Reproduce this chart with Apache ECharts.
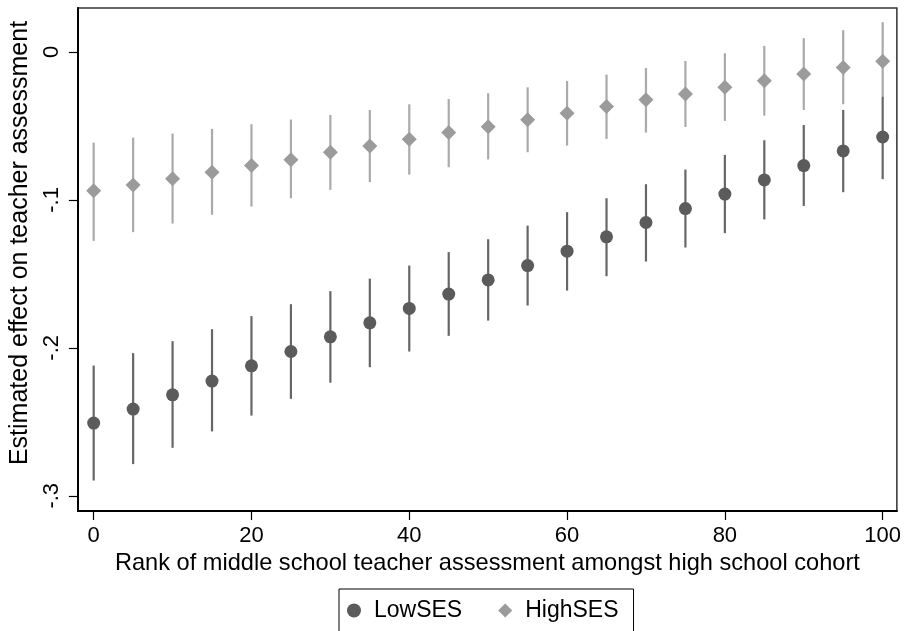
<!DOCTYPE html>
<html>
<head>
<meta charset="utf-8">
<script src="https://cdn.jsdelivr.net/npm/echarts@6/dist/echarts.min.js"></script>
<style>
html,body{margin:0;padding:0;background:#fff;}
#chart{width:904px;height:631px;}
</style>
</head>
<body>
<div id="chart"></div>
<script>
// ---- data ----
const xValues = [0,5,10,15,20,25,30,35,40,45,50,55,60,65,70,75,80,85,90,95,100];

const lowEst   = [-0.2509,-0.2414,-0.2318,-0.2225,-0.2122,-0.2025,-0.1926,-0.1831,-0.1734,-0.1637,-0.1541,-0.1444,-0.1347,-0.1250,-0.1153,-0.1059,-0.0961,-0.0865,-0.0768,-0.0669,-0.0575];
const lowUpper = [-0.2120,-0.2036,-0.1955,-0.1874,-0.1786,-0.1705,-0.1617,-0.1532,-0.1444,-0.1353,-0.1266,-0.1174,-0.1083,-0.0989,-0.0894,-0.0795,-0.0696,-0.0597,-0.0494,-0.0392,-0.0300];
const lowLower = [-0.2897,-0.2786,-0.2676,-0.2565,-0.2458,-0.2345,-0.2236,-0.2131,-0.2025,-0.1919,-0.1816,-0.1714,-0.1613,-0.1516,-0.1417,-0.1322,-0.1225,-0.1132,-0.1041,-0.0948,-0.0860];

const highEst   = [-0.0939,-0.0899,-0.0858,-0.0813,-0.0768,-0.0728,-0.0678,-0.0635,-0.0590,-0.0545,-0.0505,-0.0459,-0.0414,-0.0369,-0.0324,-0.0284,-0.0239,-0.0194,-0.0149,-0.0106,-0.0063];
const highUpper = [-0.0613,-0.0579,-0.0552,-0.0520,-0.0489,-0.0457,-0.0426,-0.0392,-0.0354,-0.0318,-0.0279,-0.0239,-0.0196,-0.0153,-0.0108,-0.0061,-0.0009,0.0041,0.0093,0.0147,0.0201];
const highLower = [-0.1277,-0.1218,-0.1160,-0.1101,-0.1045,-0.0989,-0.0932,-0.0880,-0.0829,-0.0779,-0.0727,-0.0678,-0.0633,-0.0588,-0.0545,-0.0507,-0.0466,-0.0430,-0.0392,-0.0354,-0.0300];

const xTicks = [0,20,40,60,80,100];
const xTickLabels = ['0','20','40','60','80','100'];
const yTicks = [-0.3,-0.2,-0.1,0];
const yTickLabels = ['-.3','-.2','-.1','0'];

const seriesNames = ['LowSES','HighSES'];
const xTitle = 'Rank of middle school teacher assessment amongst high school cohort';
const yTitle = 'Estimated effect on teacher assessment';

// ---- build ----
const FONT = "'Liberation Sans', Arial, Helvetica, sans-serif";
const lowColor = '#5b5b5b', lowLine = '#666666';
const highColor = '#9b9b9b', highLine = '#aaaaaa';

function zip3(a,b,c){ return a.map((v,i)=>[v,b[i],c[i]]); }
function zip2(a,b){ return a.map((v,i)=>[v,b[i]]); }
function lookup(ticks, labels, v){
  for (let i=0;i<ticks.length;i++){ if (Math.abs(ticks[i]-v) < 1e-9) return labels[i]; }
  return '';
}
function errRender(color){
  return function(params, api){
    const x = api.value(0), lo = api.value(1), hi = api.value(2);
    const p1 = api.coord([x, lo]);
    const p2 = api.coord([x, hi]);
    return {
      type: 'line',
      shape: {x1: p1[0], y1: p1[1], x2: p2[0], y2: p2[1]},
      style: {stroke: color, lineWidth: 2.2}
    };
  };
}

const chart = echarts.init(document.getElementById('chart'), null, {renderer:'canvas'});
chart.setOption({
  animation: false,
  backgroundColor: '#ffffff',
  textStyle: {fontFamily: FONT},
  grid: {left: 77, right: 7, top: 8, bottom: 120, show: true, borderColor: '#333', borderWidth: 1.5},
  xAxis: {
    type: 'value', min: -2, max: 101.8,
    splitLine: {show: false},
    axisLine: {show: true, onZero: false, lineStyle: {color: '#000', width: 2}},
    axisTick: {show: true, length: 9, customValues: xTicks, lineStyle: {color: '#000', width: 1.2}},
    axisLabel: {customValues: xTicks, margin: 14, color: '#000', fontSize: 22, fontFamily: FONT,
      formatter: v => lookup(xTicks, xTickLabels, v)},
    name: xTitle, nameLocation: 'middle', nameGap: 38,
    nameTextStyle: {color: '#000', fontSize: 23.6, fontFamily: FONT}
  },
  yAxis: {
    type: 'value', min: -0.3103, max: 0.0297,
    splitLine: {show: false},
    axisLine: {show: true, onZero: false, lineStyle: {color: '#000', width: 2}},
    axisTick: {show: true, length: 9, customValues: yTicks, lineStyle: {color: '#000', width: 1.2}},
    axisLabel: {customValues: yTicks, rotate: 90, margin: 15, color: '#000', fontSize: 22, fontFamily: FONT,
      formatter: v => lookup(yTicks, yTickLabels, v)},
    name: yTitle, nameLocation: 'middle', nameGap: 41, nameRotate: 90,
    nameTextStyle: {color: '#000', fontSize: 25, fontFamily: FONT, padding: [0,0,0,33]}
  },
  legend: {
    left: 339, top: 589,
    padding: [10, 15, 30, 8],
    borderColor: '#000', borderWidth: 1,
    itemWidth: 14, itemHeight: 14, itemGap: 36,
    textStyle: {color: '#000', fontSize: 23, fontFamily: FONT, padding: [0,0,0,8]},
    data: [{name: seriesNames[0], icon: 'circle'}, {name: seriesNames[1], icon: 'diamond'}]
  },
  series: [
    {type: 'custom', name: 'lowCI', renderItem: errRender(lowLine), data: zip3(xValues, lowLower, lowUpper), z: 2, silent: true},
    {type: 'scatter', name: seriesNames[0], symbol: 'circle', symbolSize: 13, itemStyle: {color: lowColor, opacity: 1}, data: zip2(xValues, lowEst), z: 3},
    {type: 'custom', name: 'highCI', renderItem: errRender(highLine), data: zip3(xValues, highLower, highUpper), z: 4, silent: true},
    {type: 'scatter', name: seriesNames[1], symbol: 'diamond', symbolSize: 15, itemStyle: {color: highColor, opacity: 1}, data: zip2(xValues, highEst), z: 5}
  ]
});
</script>
</body>
</html>
